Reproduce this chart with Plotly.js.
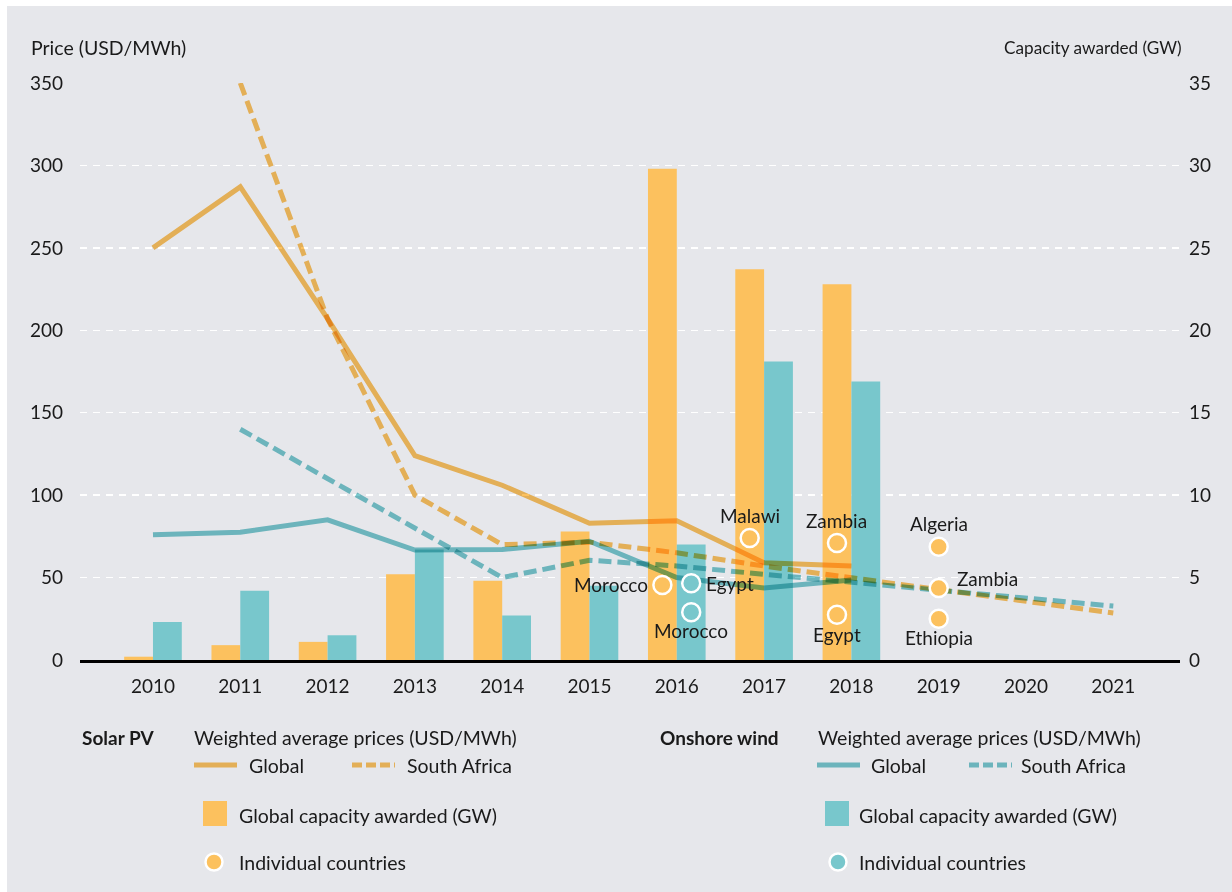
<!DOCTYPE html>
<html>
<head>
<meta charset="utf-8">
<script src="https://cdn.plot.ly/plotly-3.0.1.min.js"></script>
<style>
  html, body { margin: 0; padding: 0; background: #ffffff; }
  #chart { position: absolute; left: 7px; top: 6px; width: 1225px; height: 886px; }
  .scatterlayer .js-line { mix-blend-mode: multiply; }
</style>
</head>
<body>
<div id="chart"></div>
<script>
// ---------------- data ----------------
const years        = [2010, 2011, 2012, 2013, 2014, 2015, 2016, 2017, 2018, 2019, 2020, 2021];
const tickLabels   = ["2010", "2011", "2012", "2013", "2014", "2015", "2016", "2017", "2018", "2019", "2020", "2021"];
const barYears     = [2010, 2011, 2012, 2013, 2014, 2015, 2016, 2017, 2018];
const solarCapGW   = [0.2, 0.9, 1.1, 5.2, 4.8, 7.8, 29.8, 23.7, 22.8];
const windCapGW    = [2.3, 4.2, 1.5, 6.7, 2.7, 4.5, 7.0, 18.1, 16.9];

const solarGlobalPrice = [250, 287, 207, 124, 106, 83, 84.5, 59, 57];
const solarSAYears     = [2011, 2012, 2013, 2014, 2015, 2016, 2017, 2018, 2019, 2020, 2021];
const solarSAPrice     = [350, 207, 100, 70, 71.5, 65, 57, 50, 42.5, 35.5, 28.5];
const windGlobalPrice  = [76, 77.5, 85, 66.7, 67, 72, 50, 43.7, 48.5];
const windSAYears      = [2011, 2012, 2013, 2014, 2015, 2016, 2017, 2018, 2019, 2020, 2021];
const windSAPrice      = [140, 110, 80, 50, 60.5, 57, 52, 47, 42.5, 37, 32.7];

const solarCountryYears  = [2016, 2017, 2018, 2018];
const solarCountryNames  = ["Morocco", "Malawi", "Zambia", "Egypt"];
const solarCountryPrice  = [45.5, 74, 71, 27.5];
const solar2019Years     = [2019, 2019, 2019];
const solar2019Names     = ["Algeria", "Zambia", "Ethiopia"];
const solar2019Price     = [68.7, 43.6, 25];
const windCountryYears   = [2016, 2016];
const windCountryNames   = ["Egypt", "Morocco"];
const windCountryPrice   = [46.6, 29];

// ---------------- styles ----------------
const SOLAR = "#fcc15e";
const WIND = "#78c7cc";
const SOLAR_LINE_LEG = "rgb(227,175,87)";
const WIND_LINE_LEG = "rgb(108,180,188)";
const BG = "#e6e7eb";
const TXT = "#1a1a1a";
const FONT = "Lato, 'Open Sans', sans-serif";
const FS = 19.5;      // legend / label text
const FS_TICK = 19;
const FS_DOT = 19;
const BARGAP = 0.34;
const DOT_SHIFT = (1 - BARGAP) / 4;
const DASH = "13px,6px";
const LW = 5;

const shifted = (arr, d) => arr.map(v => v + d);
const dotMarker = (c) => ({ size: 18, color: c, line: { color: "#ffffff", width: 2.5 } });

const traces = [
  { type: "bar", x: barYears, y: solarCapGW, marker: { color: SOLAR }, yaxis: "y", showlegend: false, hoverinfo: "skip" },
  { type: "bar", x: barYears, y: windCapGW, marker: { color: WIND }, yaxis: "y", showlegend: false, hoverinfo: "skip" },

  { type: "scatter", mode: "lines", x: barYears, y: solarGlobalPrice, yaxis: "y2", cliponaxis: false,
    line: { color: SOLAR, width: LW }, showlegend: false, hoverinfo: "skip" },
  { type: "scatter", mode: "lines", x: solarSAYears, y: solarSAPrice, yaxis: "y2", cliponaxis: false,
    line: { color: SOLAR, width: LW, dash: DASH }, showlegend: false, hoverinfo: "skip" },
  { type: "scatter", mode: "lines", x: barYears, y: windGlobalPrice, yaxis: "y2", cliponaxis: false,
    line: { color: WIND, width: LW }, showlegend: false, hoverinfo: "skip" },
  { type: "scatter", mode: "lines", x: windSAYears, y: windSAPrice, yaxis: "y2", cliponaxis: false,
    line: { color: WIND, width: LW, dash: DASH }, showlegend: false, hoverinfo: "skip" },

  { type: "scatter", mode: "markers", x: shifted(solarCountryYears, -DOT_SHIFT), y: solarCountryPrice,
    marker: dotMarker(SOLAR), yaxis: "y2", cliponaxis: false, showlegend: false, hoverinfo: "skip" },
  { type: "scatter", mode: "markers", x: solar2019Years, y: solar2019Price,
    marker: dotMarker(SOLAR), yaxis: "y2", cliponaxis: false, showlegend: false, hoverinfo: "skip" },
  { type: "scatter", mode: "markers", x: shifted(windCountryYears, DOT_SHIFT), y: windCountryPrice,
    marker: dotMarker(WIND), yaxis: "y2", cliponaxis: false, showlegend: false, hoverinfo: "skip" }
];

// country name labels, attached to the dots (data coordinates) with a pixel offset
// placement: [xanchor, xshift, yshift]
const solarLabelPlace = [["right", -12, 0], ["center", 0, 23], ["center", 0, 22], ["center", 0, -20]];
const solar2019LabelPlace = [["center", 0, 23], ["left", 16, 10], ["center", 0, -19]];
const windLabelPlace = [["left", 13, 0], ["center", 0, -18]];

function countryLabels(xs, ys, names, place) {
  return names.map((n, i) => ({
    text: n, x: xs[i], y: ys[i], xref: "x", yref: "y2",
    xanchor: place[i][0], yanchor: "middle", xshift: place[i][1], yshift: place[i][2],
    showarrow: false, font: { family: FONT, size: FS_DOT, color: TXT }
  }));
}

// page pixel -> paper coordinate helpers (plot area: x 80..1180, y 83..660 on the page)
const PX = (x) => (x - 80) / 1100;
const PY = (y) => (660 - y) / 577;

function label(text, x, y, anchor, bold, size) {
  return { text: bold ? "<b>" + text + "</b>" : text, x: PX(x), y: PY(y), xref: "paper", yref: "paper",
           xanchor: anchor || "left", yanchor: "middle", showarrow: false,
           font: { family: FONT, size: size || FS, color: TXT } };
}
function lineShape(x0, x1, y, color, dash) {
  return { type: "line", xref: "paper", yref: "paper", x0: PX(x0), x1: PX(x1), y0: PY(y), y1: PY(y),
           line: { color: color, width: 5, dash: dash || "solid" } };
}
function rectShape(x0, x1, y0, y1, color) {
  return { type: "rect", xref: "paper", yref: "paper", x0: PX(x0), x1: PX(x1), y0: PY(y1), y1: PY(y0),
           fillcolor: color, line: { width: 0 } };
}
function circleShape(cx, cy, r, color) {
  return { type: "circle", xref: "paper", yref: "paper", x0: PX(cx - r), x1: PX(cx + r), y0: PY(cy + r), y1: PY(cy - r),
           fillcolor: color, line: { color: "#ffffff", width: 2.5 } };
}

const annotations = [
  label("Price (USD/MWh)", 29, 47, "left", false, 19.5),
  label("Capacity awarded (GW)", 1184, 47, "right", false, 17.2),

  label("Solar PV", 80, 737, "left", true, 19),
  label("Weighted average prices (USD/MWh)", 192, 737, "left"),
  label("Global", 247, 765, "left"),
  label("South Africa", 405, 765, "left"),
  label("Global capacity awarded (GW)", 237, 815, "left"),
  label("Individual countries", 237, 862, "left"),

  label("Onshore wind", 658, 737, "left", true, 19),
  label("Weighted average prices (USD/MWh)", 816, 737, "left"),
  label("Global", 869, 765, "left"),
  label("South Africa", 1019, 765, "left"),
  label("Global capacity awarded (GW)", 857, 815, "left"),
  label("Individual countries", 857, 862, "left")
].concat(
  countryLabels(shifted(solarCountryYears, -DOT_SHIFT), solarCountryPrice, solarCountryNames, solarLabelPlace),
  countryLabels(solar2019Years, solar2019Price, solar2019Names, solar2019LabelPlace),
  countryLabels(shifted(windCountryYears, DOT_SHIFT), windCountryPrice, windCountryNames, windLabelPlace)
);

const shapes = [
  lineShape(194, 237, 765, SOLAR_LINE_LEG),
  lineShape(352, 395, 765, SOLAR_LINE_LEG, "10px,4px"),
  rectShape(203, 227, 801, 826, SOLAR),
  circleShape(214, 862, 8.5, SOLAR),

  lineShape(817, 860, 765, WIND_LINE_LEG),
  lineShape(969, 1012, 765, WIND_LINE_LEG, "10px,4px"),
  rectShape(825, 849, 801, 826, WIND),
  circleShape(838, 862, 8.5, WIND)
];

const layout = {
  width: 1225, height: 886,
  margin: { l: 73, r: 52, t: 77, b: 232, pad: 0 },
  paper_bgcolor: BG, plot_bgcolor: BG,
  font: { family: FONT, size: FS, color: TXT },
  barmode: "group", bargap: BARGAP, bargroupgap: 0,
  showlegend: false, hovermode: false,
  xaxis: {
    type: "linear", range: [2009.164, 2021.764],
    tickmode: "array", tickvals: years, ticktext: tickLabels,
    showgrid: false, zeroline: false, showline: true, linecolor: "#000000", linewidth: 2.5,
    ticks: "", ticklabelstandoff: 8, tickfont: { family: FONT, size: FS_TICK, color: TXT }
  },
  yaxis: {
    side: "right", range: [0, 35], dtick: 5, tick0: 0,
    showgrid: true, gridcolor: "#ffffff", gridwidth: 1.5, griddash: "7px,6px",
    zeroline: false, showline: false, ticks: "", ticklabelstandoff: 8,
    tickfont: { family: FONT, size: FS_TICK, color: TXT }
  },
  yaxis2: {
    side: "left", overlaying: "y", range: [0, 350], dtick: 50, tick0: 0,
    showgrid: false, zeroline: false, showline: false, ticks: "", ticklabelstandoff: 16,
    tickfont: { family: FONT, size: FS_TICK, color: TXT }
  },
  annotations: annotations,
  shapes: shapes
};

Plotly.newPlot("chart", traces, layout, { displayModeBar: false, staticPlot: true });
</script>
</body>
</html>
